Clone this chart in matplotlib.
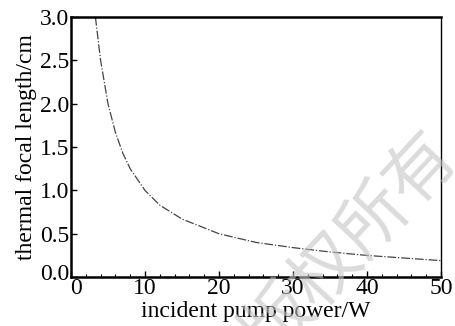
import matplotlib
matplotlib.use("Agg")
import matplotlib.pyplot as plt
import matplotlib.transforms as mtransforms
from matplotlib.ticker import MultipleLocator

power = [3.3, 4, 5, 6, 7, 8, 10, 12, 15, 20, 25, 30, 35, 40, 45, 50]
focal = [3.0, 2.5, 2.0, 1.67, 1.43, 1.25, 1.0, 0.83, 0.67, 0.5, 0.4, 0.34, 0.29, 0.25, 0.22, 0.19]
xticks = [0, 10, 20, 30, 40, 50]
yticks = [0.0, 0.5, 1.0, 1.5, 2.0, 2.5, 3.0]

plt.rcParams['font.family'] = ['Liberation Serif', 'Noto Sans CJK SC']
fig = plt.figure(figsize=(4.55, 3.26), dpi=100)
ax = fig.add_axes([0.156, 0.150, 0.813, 0.798])
ax.plot(power, focal, color='#444444', lw=0.9, ls=(0, (7, 1.5, 1, 1.5)))
ax.set_xlim(0, 50)
ax.set_ylim(0, 3.0)
ax.set_xticks(xticks)
ax.set_yticks(yticks)
ax.set_xticklabels([str(t) for t in xticks], fontsize=17)
ax.set_yticklabels([f"{t:.1f}" for t in yticks], fontsize=17)
ax.xaxis.set_minor_locator(MultipleLocator(2))
ax.tick_params(direction='in', which='major', length=4, width=1, pad=1)
ax.tick_params(direction='in', which='minor', length=2, width=0.8)
for s in ['left', 'bottom', 'top']:
    ax.spines[s].set_linewidth(1.8)
ax.spines['right'].set_linewidth(1.0)
ax.set_xlabel('incident pump power/W', fontsize=17, labelpad=1)
ax.set_ylabel('thermal focal length/cm', fontsize=17, labelpad=2)

# nudge corner labels apart as in the reference
x0 = ax.get_xticklabels()[0]
x0.set_transform(x0.get_transform() + mtransforms.ScaledTranslation(5/100, 0, fig.dpi_scale_trans))
y0 = ax.get_yticklabels()[0]
y0.set_transform(y0.get_transform() + mtransforms.ScaledTranslation(0, 5/100, fig.dpi_scale_trans))

fig.text(0.77, 0.25, '版权所有', fontsize=50, color='#c4c4c4', alpha=0.6,
         rotation=47, ha='center', va='center', family='Noto Sans CJK SC', zorder=10)
fig.savefig('out.png', dpi=100)
